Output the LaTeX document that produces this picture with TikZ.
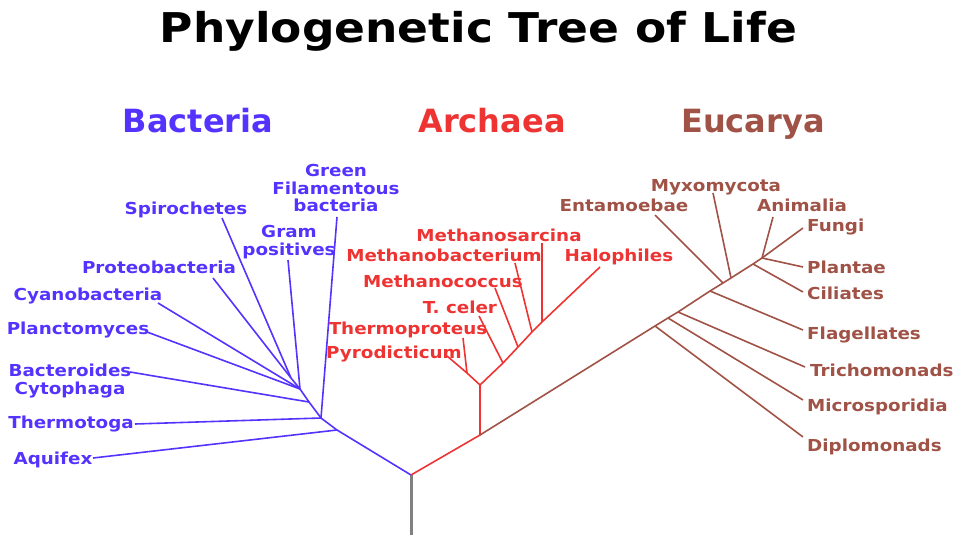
\documentclass[tikz,border=0pt]{standalone}
\usepackage{fontspec}
\setmainfont{DejaVu Sans}[FakeStretch=1.11]
\newfontfamily\headfamily{DejaVu Sans}
\definecolor{bactblue}{RGB}{85,51,255}
\definecolor{archred}{RGB}{238,51,51}
\definecolor{eucbrown}{RGB}{160,82,70}
\newcommand{\leaffont}{\fontsize{16.5}{17.5}\selectfont\bfseries}
\newcommand{\headfont}{\headfamily\fontsize{32}{32}\selectfont\bfseries}

\begin{document}
\begin{tikzpicture}[x=1pt,y=-1pt,
    leaf/.style={font=\leaffont, inner sep=0pt, align=center},
    head/.style={font=\headfont, inner sep=0pt, anchor=base},
    branch/.style={line width=1.6pt}]
\useasboundingbox (0,0) rectangle (955,535);

% draw title and domain names
\node[inner sep=0pt, anchor=base] (title) at (478.5,43) {\fontsize{41}{41}\selectfont\bfseries Phylogenetic Tree of Life};
\node[head, bactblue] (bacteria) at (198,132) {Bacteria};
\node[head, archred] (archaea) at (492,132) {Archaea};
\node[head, eucbrown] (eucarya) at (753,132) {Eucarya};

% draw root
\coordinate (root) at (411,475);
\coordinate (stem) at (411,535);
\draw[gray, line width=3pt] (root) -- (stem);

% draw bacteria
\coordinate (b1) at (337,430);
\coordinate (b2) at (321,418);
\coordinate (b3) at (309,402);
\coordinate (b4) at (300,389);
\coordinate (b5) at (291,378);
\coordinate (aquifex) at (93,458);
\coordinate (thermotoga) at (135,424);
\coordinate (bacteroides) at (130,372);
\coordinate (plancto) at (147,332);
\coordinate (cyano) at (158,303);
\coordinate (proteo) at (213,278);
\coordinate (spiro) at (222,218);
\coordinate (gram) at (288,260);
\coordinate (green) at (337,217);
\draw[bactblue, branch] (root) -- (b1) -- (b2) -- (b3) -- (b4) -- (b5);
\draw[bactblue, branch] (b1) -- (aquifex);
\draw[bactblue, branch] (b2) -- (thermotoga);
\draw[bactblue, branch] (b2) -- (green);
\draw[bactblue, branch] (b3) -- (bacteroides);
\draw[bactblue, branch] (b4) -- (plancto);
\draw[bactblue, branch] (b4) -- (cyano);
\draw[bactblue, branch] (b4) -- (gram);
\draw[bactblue, branch] (b5) -- (proteo);
\draw[bactblue, branch] (b5) -- (spiro);

\node[leaf, bactblue, anchor=base] (laquifex) at (53,464) {Aquifex};
\node[leaf, bactblue, anchor=base] (lthermotoga) at (71,428) {Thermotoga};
\node[leaf, bactblue] (lbacteroides) at (70,381) {Bacteroides\\Cytophaga};
\node[leaf, bactblue, anchor=base] (lplancto) at (78,334) {Planctomyces};
\node[leaf, bactblue, anchor=base] (lcyano) at (88,300) {Cyanobacteria};
\node[leaf, bactblue, anchor=base] (lproteo) at (159,273) {Proteobacteria};
\node[leaf, bactblue, anchor=base] (lspiro) at (186,214) {Spirochetes};
\node[leaf, bactblue] (lgram) at (289,242) {Gram\\positives};
\node[leaf, bactblue] (lgreen) at (336,188) {Green\\Filamentous\\bacteria};

% draw archaea
\coordinate (a0) at (480,435);
\coordinate (a1) at (480,385);
\coordinate (a2) at (467,373);
\coordinate (a3) at (503,363);
\coordinate (a4) at (518,347);
\coordinate (a5) at (532,332);
\coordinate (a6) at (542,322);
\coordinate (pyro) at (447,356);
\coordinate (thermoprot) at (463,338);
\coordinate (celer) at (479,316);
\coordinate (coccus) at (495,288);
\coordinate (bacterium) at (515,263);
\coordinate (sarcina) at (542,243);
\coordinate (halo) at (600,267);
\draw[archred, branch] (root) -- (a0) -- (a1) -- (a3) -- (a4) -- (a5) -- (a6) -- (halo);
\draw[archred, branch] (a1) -- (a2) -- (pyro);
\draw[archred, branch] (a2) -- (thermoprot);
\draw[archred, branch] (a3) -- (celer);
\draw[archred, branch] (a4) -- (coccus);
\draw[archred, branch] (a5) -- (bacterium);
\draw[archred, branch] (a6) -- (sarcina);

\node[leaf, archred, anchor=base] (lpyro) at (394,358) {Pyrodicticum};
\node[leaf, archred, anchor=base] (lthermoprot) at (408,334) {Thermoproteus};
\node[leaf, archred, anchor=base] (lceler) at (460,313) {T. celer};
\node[leaf, archred, anchor=base] (lcoccus) at (443,287) {Methanococcus};
\node[leaf, archred, anchor=base] (lbacterium) at (444,261) {Methanobacterium};
\node[leaf, archred, anchor=base] (lsarcina) at (499,241) {Methanosarcina};
\node[leaf, archred, anchor=base] (lhalo) at (619,261) {Halophiles};

% draw eucarya
\coordinate (e1) at (655,326);
\coordinate (e2) at (668,318);
\coordinate (e3) at (678,312);
\coordinate (e4) at (710,291);
\coordinate (e5) at (723,283);
\coordinate (e6) at (731,278);
\coordinate (e7) at (753,264);
\coordinate (e8) at (762,258);
\coordinate (diplo) at (803,437);
\coordinate (micro) at (803,400);
\coordinate (tricho) at (805,367);
\coordinate (flag) at (803,330);
\coordinate (entam) at (655,215);
\coordinate (myxo) at (713,193);
\coordinate (cili) at (803,292);
\coordinate (plant) at (803,267);
\coordinate (anim) at (773,217);
\coordinate (fungi) at (803,228);
\draw[eucbrown, branch] (a0) -- (e1) -- (e2) -- (e3) -- (e4) -- (e5) -- (e6) -- (e7) -- (e8);
\draw[eucbrown, branch] (e1) -- (diplo);
\draw[eucbrown, branch] (e2) -- (micro);
\draw[eucbrown, branch] (e3) -- (tricho);
\draw[eucbrown, branch] (e4) -- (flag);
\draw[eucbrown, branch] (e5) -- (entam);
\draw[eucbrown, branch] (e6) -- (myxo);
\draw[eucbrown, branch] (e7) -- (cili);
\draw[eucbrown, branch] (e8) -- (plant);
\draw[eucbrown, branch] (e8) -- (anim);
\draw[eucbrown, branch] (e8) -- (fungi);

\node[leaf, eucbrown, anchor=base] (lmyxo) at (716,191) {Myxomycota};
\node[leaf, eucbrown, anchor=base] (lentam) at (624,211) {Entamoebae};
\node[leaf, eucbrown, anchor=base] (lanim) at (802,211) {Animalia};
\node[leaf, eucbrown, anchor=base west] (lfungi) at (807,231) {Fungi};
\node[leaf, eucbrown, anchor=base west] (lplant) at (807,273) {Plantae};
\node[leaf, eucbrown, anchor=base west] (lcili) at (807,299) {Ciliates};
\node[leaf, eucbrown, anchor=base west] (lflag) at (807,339) {Flagellates};
\node[leaf, eucbrown, anchor=base west] (ltricho) at (810,376) {Trichomonads};
\node[leaf, eucbrown, anchor=base west] (lmicro) at (807,411) {Microsporidia};
\node[leaf, eucbrown, anchor=base west] (ldiplo) at (807,451) {Diplomonads};

\end{tikzpicture}
\end{document}
